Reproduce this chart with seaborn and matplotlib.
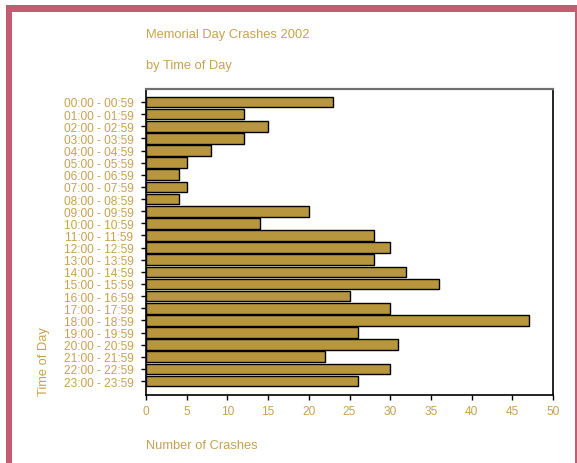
import matplotlib
matplotlib.use("Agg")
import matplotlib.pyplot as plt
from matplotlib.patches import Rectangle
import seaborn as sns
import pandas as pd

time_slots = ["00:00 - 00:59", "01:00 - 01:59", "02:00 - 02:59", "03:00 - 03:59",
              "04:00 - 04:59", "05:00 - 05:59", "06:00 - 06:59", "07:00 - 07:59",
              "08:00 - 08:59", "09:00 - 09:59", "10:00 - 10:59", "11:00 - 11:59",
              "12:00 - 12:59", "13:00 - 13:59", "14:00 - 14:59", "15:00 - 15:59",
              "16:00 - 16:59", "17:00 - 17:59", "18:00 - 18:59", "19:00 - 19:59",
              "20:00 - 20:59", "21:00 - 21:59", "22:00 - 22:59", "23:00 - 23:59"]
crashes = [23, 12, 15, 12, 8, 5, 4, 5, 4, 20, 14, 28,
           30, 28, 32, 36, 25, 30, 47, 26, 31, 22, 30, 26]
x_ticks = [0, 5, 10, 15, 20, 25, 30, 35, 40, 45, 50]

title1 = "Memorial Day Crashes 2002"
title2 = "by Time of Day"
xlabel = "Number of Crashes"
ylabel = "Time of Day"

sns.set_theme(style="white")
plt.rcParams["font.family"] = ["Liberation Sans", "DejaVu Sans"]

TEXT = "#c6a150"
BAR = "#b8963e"
BORDER = "#c25c70"

W, H = 577, 464
fig = plt.figure(figsize=(W / 100, H / 100), dpi=100)
fig.patch.set_facecolor("white")

ax = fig.add_axes([146 / W, 1 - 396 / H, (553 - 146) / W, (396 - 90) / H])

df = pd.DataFrame({"slot": time_slots, "crashes": crashes})
sns.barplot(data=df, x="crashes", y="slot", orient="h", color=BAR,
            edgecolor="black", linewidth=1.0, width=0.88, saturation=1, ax=ax)

ax.set_xlim(0, 50)
ax.set_ylim(len(time_slots) - 1 + 1.15, -1.07)
ax.set_xticks(x_ticks)
ax.set_xticklabels([str(t) for t in x_ticks])
ax.set_xlabel("")
ax.set_ylabel("")

ax.tick_params(axis="both", which="both", direction="out", length=3.5, width=1,
               color="black", labelcolor=TEXT, labelsize=8.6)
ax.tick_params(axis="x", pad=3.5, bottom=True)
ax.tick_params(axis="y", pad=5.5, left=True)

for side in ["left", "right", "bottom"]:
    ax.spines[side].set_visible(True)
    ax.spines[side].set_color("black")
    ax.spines[side].set_linewidth(1.2)
ax.spines["top"].set_visible(True)
ax.spines["top"].set_color("#707070")
ax.spines["top"].set_linewidth(1.6)

fig.text(146 / W, 1 - 35 / H, title1, color=TEXT, fontsize=9.3, ha="left", va="center")
fig.text(146 / W, 1 - 66 / H, title2, color=TEXT, fontsize=9.3, ha="left", va="center")
fig.text(146 / W, 1 - 446 / H, xlabel, color=TEXT, fontsize=9.3, ha="left", va="center")
fig.text(44 / W, 1 - 396 / H, ylabel, color=TEXT, fontsize=9.3, ha="center", va="bottom",
         rotation=90)

# border frame
fig.add_artist(Rectangle((6 / W, 0), 6 / W, 1 - 6 / H, transform=fig.transFigure,
                         facecolor=BORDER, edgecolor="none"))
fig.add_artist(Rectangle((6 / W, 1 - 13 / H), 1 - 6 / W, 7 / H, transform=fig.transFigure,
                         facecolor=BORDER, edgecolor="none"))
fig.add_artist(Rectangle((575 / W, 0), 2 / W, 1 - 6 / H, transform=fig.transFigure,
                         facecolor=BORDER, edgecolor="none"))

fig.savefig("out.png", dpi=100)
